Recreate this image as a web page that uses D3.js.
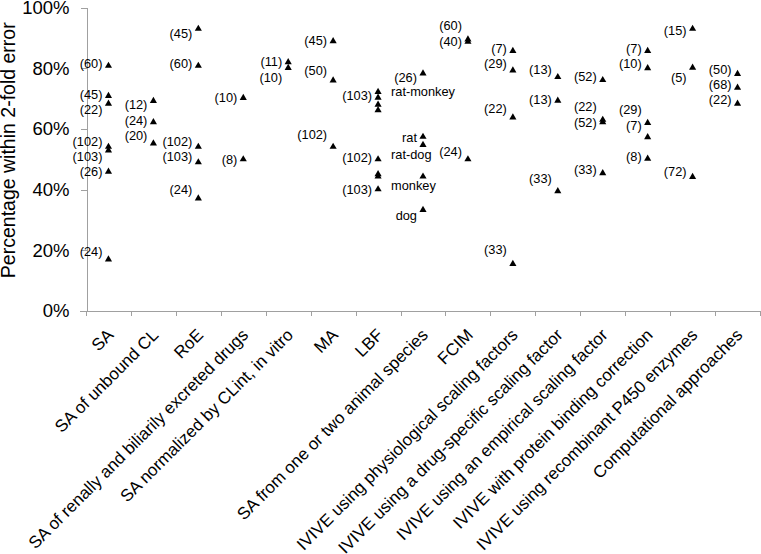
<!DOCTYPE html>
<html>
<head>
    <meta charset="utf-8">
    <title>2-fold error by method</title>
    <script src="https://d3js.org/d3.v7.min.js"></script>
    <style>
        body { margin: 0; background: #fff; }
        text { font-family: "Liberation Sans", Arial, sans-serif; fill: #000; }
        .axis path, .axis line { stroke: #a0a0a0; shape-rendering: crispEdges; }
    </style>
</head>
<body>
    <div id="chart"></div>
    <script>
        // methods on the x axis
        const categories = [
            "SA", "SA of unbound CL", "RoE",
            "SA of renally and biliarily excreted drugs",
            "SA normalized by CLint, in vitro", "MA", "LBF",
            "SA from one or two animal species", "FCIM",
            "IVIVE using physiological scaling factors",
            "IVIVE using a drug-specific scaling factor",
            "IVIVE using an empirical scaling factor",
            "IVIVE with protein binding correction",
            "IVIVE using recombinant P450 enzymes",
            "Computational approaches"
        ];

        // % within 2-fold error, one list per method (same order as categories)
        const values = [
            [80.8, 70.9, 68.3, 54.1, 52.9, 45.9, 17.0],
            [69.2, 62.2, 55.2],
            [93.0, 80.8, 54.1, 49.0, 37.1],
            [70.2, 50.0],
            [82.0, 80.1],
            [88.9, 76.0, 54.1],
            [72.2, 70.3, 68.0, 66.2, 50.0, 45.1, 44.3, 40.1],
            [78.3, 57.4, 54.7, 44.3, 33.3],
            [89.5, 88.7, 50.0],
            [85.7, 79.3, 63.8, 15.5],
            [77.1, 69.3, 39.5],
            [76.1, 63.0, 62.2, 45.4],
            [85.7, 80.0, 62.0, 57.3, 50.2],
            [93.0, 80.2, 44.2],
            [78.1, 73.6, 68.3]
        ];

        // annotations: [category index, level (%), text]
        const counts = [
            [0, 81.6, "(60)"], [0, 71.4, "(45)"], [0, 66.5, "(22)"], [0, 55.8, "(102)"],
            [0, 50.8, "(103)"], [0, 45.9, "(26)"], [0, 19.5, "(24)"],
            [1, 68.1, "(12)"], [1, 62.9, "(24)"], [1, 57.7, "(20)"],
            [2, 91.5, "(45)"], [2, 81.6, "(60)"], [2, 55.8, "(102)"], [2, 50.8, "(103)"], [2, 39.9, "(24)"],
            [3, 70.3, "(10)"], [3, 50.0, "(8)"],
            [4, 82.1, "(11)"], [4, 77.0, "(10)"],
            [5, 89.1, "(45)"], [5, 79.1, "(50)"], [5, 58.3, "(102)"],
            [6, 70.9, "(103)"], [6, 50.5, "(102)"], [6, 40.1, "(103)"],
            [7, 76.9, "(26)"], [7, 57.1, "rat"], [7, 31.3, "dog"],
            [8, 94.0, "(60)"], [8, 88.9, "(40)"], [8, 52.5, "(24)"],
            [9, 86.6, "(7)"], [9, 81.6, "(29)"], [9, 66.6, "(22)"], [9, 20.1, "(33)"],
            [10, 79.6, "(13)"], [10, 69.8, "(13)"], [10, 43.5, "(33)"],
            [11, 77.2, "(52)"], [11, 67.3, "(22)"], [11, 62.2, "(52)"], [11, 46.5, "(33)"],
            [12, 86.6, "(7)"], [12, 81.6, "(10)"], [12, 66.5, "(29)"], [12, 61.0, "(7)"], [12, 50.8, "(8)"],
            [13, 92.4, "(15)"], [13, 77.0, "(5)"], [13, 46.1, "(72)"],
            [14, 79.7, "(50)"], [14, 74.7, "(68)"], [14, 69.8, "(22)"]
        ];

        // species names that start left of the marker column
        const species = [
            [7, 72.3, "rat-monkey"], [7, 51.6, "rat-dog"], [7, 41.5, "monkey"]
        ];

        const yTicks = [0, 20, 40, 60, 80, 100];

        const width = 761, height = 554;
        const margin = { top: 7.5, right: 1, bottom: 243, left: 86 };

        const svg = d3.select("#chart")
            .append("svg")
            .attr("width", width)
            .attr("height", height);

        const x = d3.scaleBand()
            .domain(d3.range(categories.length))
            .range([margin.left, width - margin.right]);

        const y = d3.scaleLinear()
            .domain([0, 100])
            .range([height - margin.bottom, margin.top]);

        const cx = i => x(i) + x.bandwidth() / 2;

        // Y axis
        const yAxis = svg.append("g")
            .attr("class", "axis")
            .attr("transform", `translate(${margin.left + 0.5},0)`)
            .call(d3.axisLeft(y)
                .tickValues(yTicks)
                .tickFormat(d => d + "%")
                .tickSize(6)
                .tickSizeOuter(0)
                .tickPadding(11));
        yAxis.selectAll("text")
            .style("font-size", "18.5px")
            .attr("fill", "#000");

        // X axis line with ticks at the band edges
        const x0 = y(0);
        const xAxis = svg.append("g").attr("class", "axis");
        xAxis.append("line")
            .attr("x1", margin.left - 6).attr("x2", width - margin.right)
            .attr("y1", x0 + 0.5).attr("y2", x0 + 0.5);
        xAxis.selectAll(".tick")
            .data(d3.range(categories.length + 1))
            .join("line")
            .attr("x1", i => Math.round(x.range()[0] + i * x.step()) + 0.5)
            .attr("x2", i => Math.round(x.range()[0] + i * x.step()) + 0.5)
            .attr("y1", x0)
            .attr("y2", x0 + 5);

        // category labels, rotated
        svg.append("g")
            .selectAll("text")
            .data(categories)
            .join("text")
            .attr("transform", (d, i) => `translate(${cx(i) + 6},${x0 + 25}) rotate(-45)`)
            .attr("text-anchor", "end")
            .style("font-size", "17px")
            .text(d => d);

        // Y axis title
        svg.append("text")
            .attr("transform", `translate(15,${(y(0) + y(100)) / 2 - 9}) rotate(-90)`)
            .attr("text-anchor", "middle")
            .style("font-size", "19.5px")
            .text("Percentage within 2-fold error");

        // markers
        const points = values.flatMap((vals, i) => vals.map(v => ({ i, v })));
        svg.append("g")
            .selectAll("path")
            .data(points)
            .join("path")
            .attr("transform", d => `translate(${cx(d.i)},${y(d.v)})`)
            .attr("d", d3.symbol(d3.symbolTriangle, 22))
            .attr("fill", "#000");

        // count labels (right-aligned, left of the markers)
        svg.append("g")
            .selectAll("text")
            .data(counts)
            .join("text")
            .attr("x", d => cx(d[0]) - 6)
            .attr("y", d => y(d[1]))
            .attr("dy", "0.35em")
            .attr("text-anchor", "end")
            .style("font-size", "12.8px")
            .text(d => d[2]);

        // species labels (left-aligned)
        svg.append("g")
            .selectAll("text")
            .data(species)
            .join("text")
            .attr("x", d => cx(d[0]) - 32)
            .attr("y", d => y(d[1]))
            .attr("dy", "0.35em")
            .attr("text-anchor", "start")
            .style("font-size", "12.8px")
            .text(d => d[2]);
    </script>
</body>
</html>
